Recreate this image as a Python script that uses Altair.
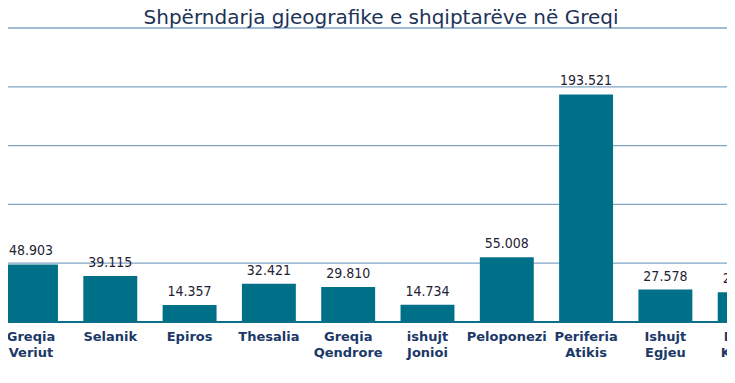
import altair as alt
import pandas as pd

categories = ["Greqia\nVeriut", "Selanik", "Epiros", "Thesalia", "Greqia\nQendrore",
              "ishujt\nJonioi", "Peloponezi", "Periferia\nAtikis", "Ishujt\nEgjeu", "Ishujt\nKretës"]
values = [48.903, 39.115, 14.357, 32.421, 29.810, 14.734, 55.008, 193.521, 27.578, 25.300]
grid_values = [50, 100, 150, 200, 250]
title_text = "Shpërndarja gjeografike e shqiptarëve në Greqi"

df = pd.DataFrame({"i": list(range(len(categories))), "cat": categories, "v": values})

W, H = 719, 294
xscale = alt.Scale(domain=[-0.29, 8.777], nice=False, zero=False)
yscale = alt.Scale(domain=[0, 250], nice=False)

base = alt.Chart(df)

grid = alt.Chart(pd.DataFrame({"g": grid_values})).mark_rule(
    color="#80a6c6", strokeWidth=1.3
).encode(y=alt.Y("g:Q", scale=yscale, axis=None))

bars = base.transform_calculate(
    x0="datum.i - 0.34", x1="datum.i + 0.34"
).mark_bar(color="#007089", clip=True).encode(
    x=alt.X("x0:Q", scale=xscale, axis=None),
    x2="x1:Q",
    y=alt.Y("v:Q", scale=yscale, axis=None),
    y2=alt.datum(0),
)

vals = base.mark_text(
    baseline="alphabetic", dy=-9, font="DejaVu Sans Condensed, Roboto Condensed, Roboto",
    fontSize=14, color="#1e2233"
).encode(
    x=alt.X("i:Q", scale=xscale, axis=None),
    y=alt.Y("v:Q", scale=yscale, axis=None),
    text=alt.Text("v:Q", format=".3f"),
)

cats = base.mark_text(
    baseline="alphabetic", lineBreak="\n", lineHeight=16, font="DejaVu Sans",
    fontWeight="bold", fontSize=13, color="#1b3868"
).encode(
    x=alt.X("i:Q", scale=xscale, axis=None),
    y=alt.value(313),
    text="cat:N",
)

rule = alt.Chart(pd.DataFrame({"y": [0]})).mark_rule(color="#0b6f8a", strokeWidth=2).encode(
    y=alt.Y("y:Q", scale=yscale, axis=None)
)

title = alt.Chart(pd.DataFrame({"t": [title_text]})).mark_text(
    baseline="alphabetic", align="center", font="DejaVu Sans", fontSize=20, color="#1d3358"
).encode(
    x=alt.value(373), y=alt.value(-4), text="t:N"
)

chart = alt.layer(grid, bars, rule, vals, cats, title).properties(
    width=W, height=H,
    autosize=alt.AutoSizeParams(type="none"),
    padding={"left": 0, "top": 20, "right": 0, "bottom": 46},
    background="white",
).configure_view(stroke=None)

chart.save("out.html", embed_options={"renderer": "svg", "actions": False})
